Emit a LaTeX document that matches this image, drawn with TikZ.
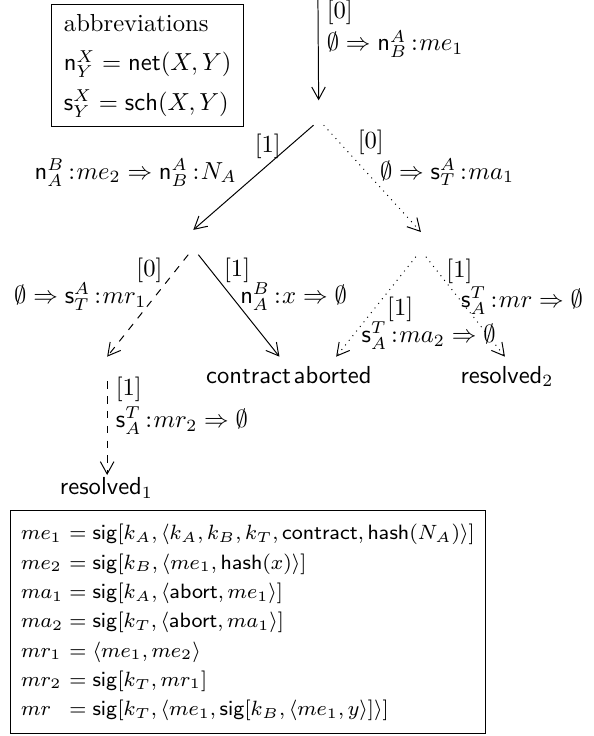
\RequirePackage{fix-cm}
\documentclass[tikz,border=0pt]{standalone}
\usepackage{amsmath,amssymb}
\usetikzlibrary{positioning,arrows.meta}
\tikzset{>={Straight Barb[length=5pt,width=5.5pt]},
  state/.style={inner sep=0pt,minimum width=.13cm,minimum height=.34cm},
  outcome/.style={font=\sffamily,anchor=base},
  trans/.style={->},abortstep/.style={->,dotted},resolvestep/.style={->,dashed}}
\newcommand{\netm}[2]{\mathsf{n}^{#1}_{#2}}
\newcommand{\schm}[2]{\mathsf{s}^{#1}_{#2}}
\newcommand{\colonop}{\mskip3mu{:}\mskip1mu}

\begin{document}
\begin{tikzpicture}
\useasboundingbox (0,0) rectangle (8.47,-10.51);
\node[draw,align=left,inner xsep=5pt,inner ysep=4pt] (abbr) at (2.11,-.94) {abbreviations\\[4pt] $\netm{X}{Y}=\mathsf{net}(X,Y)$\\[4pt] $\schm{X}{Y}=\mathsf{sch}(X,Y)$};
% protocol states
\coordinate (init) at (4.54,0);
\foreach \n/\p in {s1/{4.55,-1.61},s2/{2.76,-3.46},s3/{6.01,-3.49},s4/{1.53,-5.27},c/{3.99,-5.27},ab/{4.80,-5.27},r2/{7.21,-5.27},r1/{1.53,-6.96}}{\node[state] (\n) at (\p) {};}
\node[outcome] (tc) at (3.55,-5.47) {contract};
\node[outcome] (tab) at (4.75,-5.47) {aborted};
\node[outcome] (tr2) at (7.24,-5.47) {resolved$_2$};
\node[outcome] (tr1) at (1.52,-7.06) {resolved$_1$};
% steps
\draw[trans] (init) -- (s1.north) node[pos=.29,right,align=left]{[0]\\[1pt] $\emptyset\Rightarrow\netm{A}{B}\colonop me_1$};
\draw[trans] (s1.south west) -- (s2.north) node[pos=.2,left]{[1]} node[pos=.45,left=5.7pt]{$\netm{B}{A}\colonop me_2\Rightarrow\netm{A}{B}\colonop N_A$};
\draw[abortstep] (s1.south east) -- (s3.north) node[pos=.16,right=4pt]{[0]} node[pos=.44,right=2pt]{$\emptyset\Rightarrow\schm{A}{T}\colonop ma_1$};
\draw[resolvestep] (s2.south west) -- (s4.north) node[pos=.15,left=2pt]{[0]} node[pos=.41,left]{$\emptyset\Rightarrow\schm{A}{T}\colonop mr_1$};
\draw[trans] (s2.south east) -- (c.north) node[pos=.15,right=2pt]{[1]} node[pos=.41,right]{$\netm{B}{A}\colonop x\Rightarrow\emptyset$};
\draw[abortstep] (s3.south west) -- (ab.north) node[pos=.53,right=2pt]{[1]} node[pos=.79,right]{$\schm{T}{A}\colonop ma_2\Rightarrow\emptyset$};
\draw[abortstep] (s3.south east) -- (r2.north) node[pos=.15,right]{[1]} node[pos=.44,right,inner xsep=0pt]{$\schm{T}{A}\colonop mr\Rightarrow\emptyset$};
\draw[resolvestep] (s4.south) -- (r1.north) node[pos=.26,right,align=left]{[1]\\[1pt] $\schm{T}{A}\colonop mr_2\Rightarrow\emptyset$};
% message definitions
\node[draw,font=\fontsize{8.4}{11.9}\selectfont,inner xsep=4.5pt,inner ysep=3.6pt] (defs) at (3.54,-8.88) {$\begin{array}{@{}l@{}l@{}}
me_1&{}=\mathsf{sig}[k_A,\langle k_A,k_B,k_T,\mathsf{contract},\mathsf{hash}(N_A)\rangle]\\
me_2&{}=\mathsf{sig}[k_B,\langle me_1,\mathsf{hash}(x)\rangle]\\
ma_1&{}=\mathsf{sig}[k_A,\langle\mathsf{abort},me_1\rangle]\\
ma_2&{}=\mathsf{sig}[k_T,\langle\mathsf{abort},ma_1\rangle]\\
mr_1&{}=\langle me_1,me_2\rangle\\
mr_2&{}=\mathsf{sig}[k_T,mr_1]\\
mr&{}=\mathsf{sig}[k_T,\langle me_1,\mathsf{sig}[k_B,\langle me_1,y\rangle]\rangle]
\end{array}$};
\end{tikzpicture}
\end{document}
